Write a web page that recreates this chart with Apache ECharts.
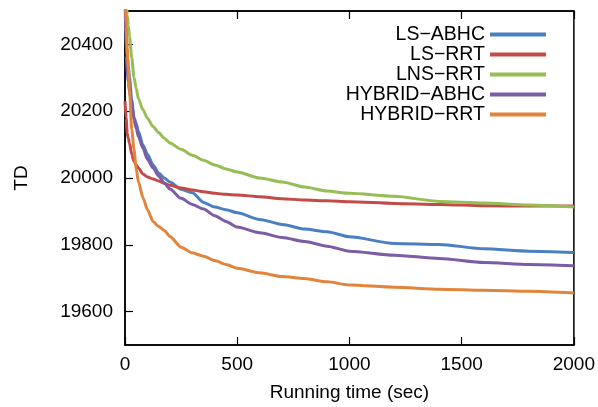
<!DOCTYPE html>
<html>
<head>
<meta charset="utf-8">
<script src="https://cdn.jsdelivr.net/npm/echarts@6/dist/echarts.min.js"></script>
<style>
html,body{margin:0;padding:0;background:#fff;}
#chart{width:598px;height:407px;}
</style>
</head>
<body>
<div id="chart"></div>
<script>
var times      = [0,5,10,15,20,30,40,50,60,80,100,125,150,175,200,250,300,350,400,450,500,600,700,800,900,1000,1200,1400,1600,1800,2000];
var lsAbhc     = [20560,20427,20367,20335,20302,20234,20181,20163,20139,20098,20071,20039,20015,20000,19988,19966,19956,19927,19913,19905,19896,19876,19861,19847,19839,19824,19804,19801,19788,19781,19777];
var lsRrt      = [20230,20180,20133,20119,20104,20071,20050,20039,20030,20012,20003,19997,19991,19984,19978,19970,19964,19959,19954,19951,19949,19944,19938,19934,19932,19929,19924,19921,19917,19916,19916];
var lnsRrt     = [20560,20540,20486,20456,20424,20361,20302,20267,20237,20204,20179,20154,20136,20119,20105,20086,20068,20053,20039,20027,20018,20000,19988,19973,19961,19954,19945,19930,19925,19919,19913];
var hybridAbhc = [20560,20367,20317,20287,20258,20219,20175,20148,20124,20089,20056,20030,20006,19985,19967,19939,19921,19907,19887,19870,19853,19836,19822,19810,19796,19781,19769,19759,19747,19741,19737];
var hybridRrt  = [20560,20456,20388,20329,20264,20145,20086,20027,19988,19941,19905,19870,19855,19843,19825,19793,19776,19766,19753,19741,19730,19716,19705,19699,19689,19680,19673,19667,19664,19661,19656];
var seriesNames = ['LS\u2212ABHC','LS\u2212RRT','LNS\u2212RRT','HYBRID\u2212ABHC','HYBRID\u2212RRT'];
var seriesColors = ['#4a7fc2','#c24b48','#97bd55','#7b5ca5','#e3843b'];
var yTicks = [19600,19800,20000,20200,20400];
var xTicks = [0,500,1000,1500,2000];

var allValues = [lsAbhc, lsRrt, lnsRrt, hybridAbhc, hybridRrt];
function pairs(vals){ return times.map(function(t,i){ return [t, vals[i]]; }); }
function plain(v){ return String(v); }

var font = 'Liberation Sans, Arial, sans-serif';
var chart = echarts.init(document.getElementById('chart'), null, {renderer:'canvas'});
chart.setOption({
  animation: false,
  backgroundColor: '#fff',
  textStyle: {fontFamily: font, color: '#000'},
  grid: {left: 125, right: 23, top: 11, bottom: 59, show: true, borderColor: '#000', borderWidth: 1.5, backgroundColor: 'transparent'},
  legend: {
    orient: 'vertical', align: 'right', right: 47, top: 19.5,
    itemWidth: 56, itemHeight: 4, itemGap: 0, icon: 'rect',
    textStyle: {fontFamily: font, fontSize: 19.5, color: '#000', lineHeight: 19.5},
    data: seriesNames
  },
  xAxis: [{
    type: 'value', min: 0, max: 2000, interval: 500,
    name: 'Running time (sec)', nameLocation: 'middle', nameGap: 38,
    nameTextStyle: {fontFamily: font, fontSize: 19, color: '#000'},
    axisLine: {show: true, lineStyle: {color: '#000', width: 1.5}},
    axisTick: {show: true, inside: true, length: 8, lineStyle: {color: '#000', width: 1.2}, customValues: xTicks},
    axisLabel: {fontFamily: font, fontSize: 19, color: '#000', margin: 10, customValues: xTicks, formatter: plain},
    splitLine: {show: false}
  },{
    type: 'value', position: 'top', min: 0, max: 2000, interval: 500,
    axisLine: {show: true, lineStyle: {color: '#000', width: 1.5}},
    axisTick: {show: true, inside: true, length: 8, lineStyle: {color: '#000', width: 1.2}},
    axisLabel: {show: false},
    splitLine: {show: false}
  }],
  yAxis: {
    type: 'value', min: 19500, max: 20500,
    name: 'TD', nameLocation: 'middle', nameGap: 94,
    nameTextStyle: {fontFamily: font, fontSize: 19, color: '#000'},
    axisLine: {show: true, lineStyle: {color: '#000', width: 1.5}},
    axisTick: {show: true, inside: true, length: 8, lineStyle: {color: '#000', width: 1.2}, customValues: yTicks},
    axisLabel: {fontFamily: font, fontSize: 19, color: '#000', margin: 12, customValues: yTicks, formatter: plain},
    splitLine: {show: false}
  },
  series: allValues.map(function(vals, i){
    return {
      name: seriesNames[i], type: 'line', xAxisIndex: 0, data: pairs(vals),
      showSymbol: false, symbol: 'none', clip: true,
      smooth: 0.25, smoothMonotone: 'x',
      lineStyle: {color: seriesColors[i], width: 3},
      itemStyle: {color: seriesColors[i]}
    };
  })
});
</script>
</body>
</html>
